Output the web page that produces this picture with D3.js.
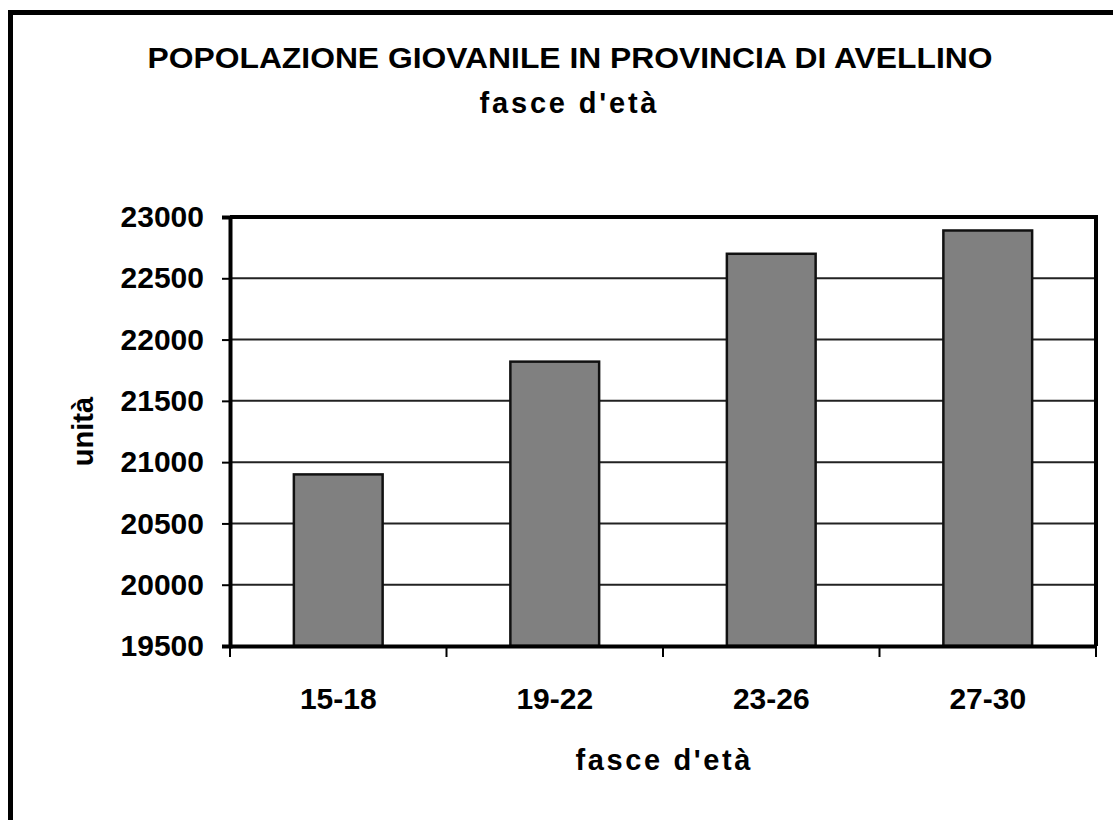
<!DOCTYPE html>
<html>
<head>
<meta charset="utf-8">
<script src="https://cdn.jsdelivr.net/npm/d3@7"></script>
<style>
  html, body { margin: 0; padding: 0; background: #fff; }
  svg { display: block; }
  text { font-family: "Liberation Sans", Arial, sans-serif; font-weight: bold; fill: #000; }
</style>
</head>
<body>
<svg id="chart" width="1113" height="820"></svg>
<script>
const categories = ["15-18", "19-22", "23-26", "27-30"];
const values = [20900, 21820, 22700, 22890];
const yTicks = [19500, 20000, 20500, 21000, 21500, 22000, 22500, 23000];
const titleText = "POPOLAZIONE GIOVANILE IN PROVINCIA DI AVELLINO";
const subtitleText = "fasce d'età";
const xAxisTitle = "fasce d'età";
const yAxisTitle = "unità";

const svg = d3.select("#chart");
const plot = { left: 230, right: 1096, top: 217, bottom: 646 };

// outer frame (extends beyond the page at right and bottom)
svg.append("rect")
  .attr("x", 10.5).attr("y", 12.5)
  .attr("width", 1300).attr("height", 1000)
  .attr("fill", "none").attr("stroke", "#000").attr("stroke-width", 5);

const x = d3.scaleBand()
  .domain(categories)
  .range([plot.left, plot.right])
  .paddingInner(0.59)
  .paddingOuter(0.295);

const y = d3.scaleLinear()
  .domain([19500, 23000])
  .range([plot.bottom, plot.top]);

// gridlines
svg.append("g")
  .selectAll("line")
  .data(yTicks.filter(t => t > 19500 && t < 23000))
  .join("line")
  .attr("x1", plot.left).attr("x2", plot.right)
  .attr("y1", d => y(d)).attr("y2", d => y(d))
  .attr("stroke", "#222").attr("stroke-width", 2);

// bars
svg.append("g")
  .selectAll("rect")
  .data(values)
  .join("rect")
  .attr("x", (d, i) => x(categories[i]))
  .attr("y", d => y(d))
  .attr("width", x.bandwidth())
  .attr("height", d => plot.bottom - y(d))
  .attr("fill", "#808080")
  .attr("stroke", "#111")
  .attr("stroke-width", 2.5);

// plot border top & right
svg.append("path")
  .attr("d", `M${plot.left},${plot.top}H${plot.right}V${plot.bottom}`)
  .attr("fill", "none").attr("stroke", "#000").attr("stroke-width", 4);

// y axis
const yAxis = d3.axisLeft(y).tickValues(yTicks).tickSize(8).tickPadding(18).tickFormat(d3.format("d"));
const gy = svg.append("g").attr("transform", `translate(${plot.left},0)`).call(yAxis);
gy.select(".domain").attr("stroke", "#000").attr("stroke-width", 4);
gy.selectAll(".tick line").attr("stroke", "#000").attr("stroke-width", 2);
gy.selectAll(".tick text").style("font-size", "30px").style("font-family", "'Liberation Sans', Arial, sans-serif").style("font-weight", "bold").attr("fill", "#000");

// x axis
const xAxis = d3.axisBottom(x).tickSize(0).tickPadding(42);
const gx = svg.append("g").attr("transform", `translate(0,${plot.bottom})`).call(xAxis);
gx.select(".domain").attr("stroke", "#000").attr("stroke-width", 4);
gx.selectAll(".tick text").style("font-size", "30px").style("font-family", "'Liberation Sans', Arial, sans-serif").style("font-weight", "bold").attr("fill", "#000");
// category boundary ticks
const bounds = categories.map(c => x(c) - x.step() * x.paddingInner() / 2).concat([plot.right]);
bounds[0] = plot.left;
gx.selectAll(".bound")
  .data(bounds)
  .join("line")
  .attr("class", "bound")
  .attr("x1", d => d).attr("x2", d => d)
  .attr("y1", 0).attr("y2", 11)
  .attr("stroke", "#000").attr("stroke-width", 2);

// titles
svg.append("text")
  .attr("x", 570).attr("y", 68)
  .attr("text-anchor", "middle")
  .attr("textLength", 845).attr("lengthAdjust", "spacingAndGlyphs")
  .style("font-size", "29px")
  .text(titleText);

svg.append("text")
  .attr("x", 568).attr("y", 113)
  .attr("text-anchor", "middle")
  .attr("textLength", 177).attr("lengthAdjust", "spacing")
  .style("font-size", "29px")
  .text(subtitleText);

svg.append("text")
  .attr("x", (plot.left + plot.right) / 2).attr("y", 770)
  .attr("text-anchor", "middle")
  .attr("textLength", 175).attr("lengthAdjust", "spacing")
  .style("font-size", "29px")
  .text(xAxisTitle);

svg.append("text")
  .attr("transform", `translate(93,${(plot.top + plot.bottom) / 2}) rotate(-90)`)
  .attr("text-anchor", "middle")
  .style("font-size", "29px")
  .text(yAxisTitle);
</script>
</body>
</html>
